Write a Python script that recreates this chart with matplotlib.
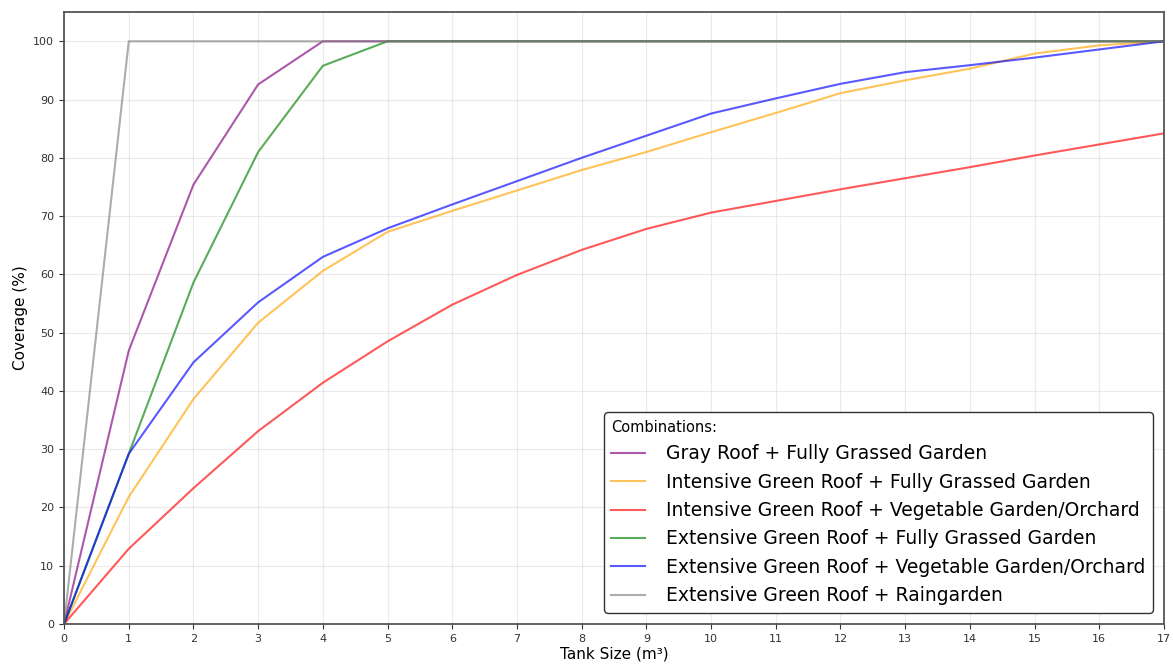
import matplotlib
matplotlib.use("Agg")
from matplotlib import pyplot as plt

# tank sizes (m3)
tank = list(range(0, 18))

# coverage (%) per combination
gray_grassed = [0, 46.9, 75.4, 92.6, 100, 100, 100, 100, 100, 100, 100, 100, 100, 100, 100, 100, 100, 100]
int_grassed = [0, 21.8, 38.6, 51.7, 60.6, 67.3, 70.9, 74.4, 77.9, 81.0, 84.4, 87.7, 91.1, 93.3, 95.3, 97.9, 99.3, 100]
int_veg = [0, 12.9, 23.3, 33.1, 41.4, 48.5, 54.8, 59.9, 64.2, 67.8, 70.6, 72.6, 74.6, 76.5, 78.4, 80.4, 82.3, 84.2]
ext_grassed = [0, 29.2, 58.6, 81.0, 95.8, 100, 100, 100, 100, 100, 100, 100, 100, 100, 100, 100, 100, 100]
ext_veg = [0, 29.2, 44.9, 55.2, 63.0, 67.9, 72.0, 76.0, 80.0, 83.8, 87.6, 90.2, 92.7, 94.7, 95.9, 97.2, 98.6, 100]
ext_rain = [0, 100, 100, 100, 100, 100, 100, 100, 100, 100, 100, 100, 100, 100, 100, 100, 100, 100]

labels = ["Gray Roof + Fully Grassed Garden",
          "Intensive Green Roof + Fully Grassed Garden",
          "Intensive Green Roof + Vegetable Garden/Orchard",
          "Extensive Green Roof + Fully Grassed Garden",
          "Extensive Green Roof + Vegetable Garden/Orchard",
          "Extensive Green Roof + Raingarden"]
colors = ["purple", "orange", "red", "green", "blue", "gray"]
series = [gray_grassed, int_grassed, int_veg, ext_grassed, ext_veg, ext_rain]

fig = plt.figure(figsize=(11.73, 6.65), dpi=100)
ax = fig.add_axes([0.0546, 0.0617, 0.9377, 0.920])

for s, c, l in zip(series, colors, labels):
    ax.plot(tank, s, color=c, alpha=0.65, linewidth=1.5, label=l)

ax.set_xlim(0, 17)
ax.set_ylim(0, 105)
ax.set_xticks(range(0, 18))
ax.set_yticks(range(0, 101, 10))
ax.tick_params(labelsize=8, colors="#333333")
ax.grid(True, color="#cccccc", alpha=0.4, linewidth=0.8)
for sp in ax.spines.values():
    sp.set_color("#555555")
    sp.set_linewidth(1.3)

ax.set_xlabel("Tank Size (m³)", fontsize=11, labelpad=2)
ax.set_ylabel("Coverage (%)", fontsize=11)

leg = ax.legend(title="Combinations:", loc="lower right", fontsize=13.5,
                title_fontsize=10.5, frameon=True, edgecolor="#333333",
                fancybox=True, borderaxespad=0.6, handlelength=1.8,
                handletextpad=1.1, labelspacing=0.5)
leg._legend_box.align = "left"
leg.get_frame().set_alpha(1)

plt.savefig("out.png")
plt.close()
